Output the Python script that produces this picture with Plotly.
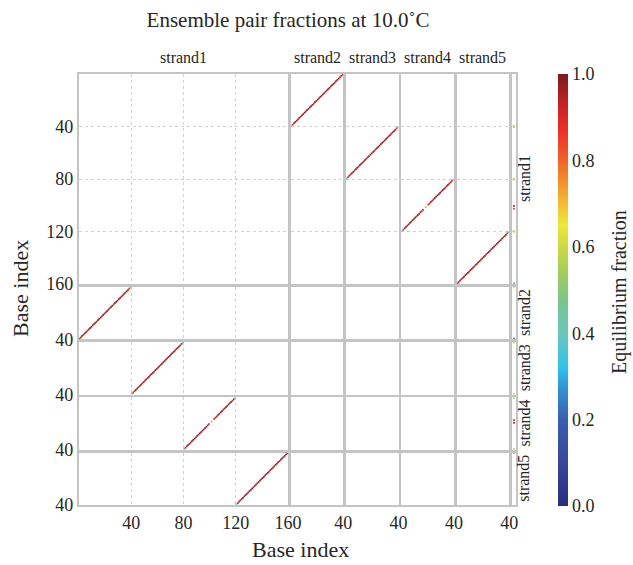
import plotly.graph_objects as go

# ---------------- data ----------------
title_text = "Ensemble pair fractions at 10.0˚C"
strand_names = ["strand1", "strand2", "strand3", "strand4", "strand5"]
strand_lengths = [160, 40, 40, 40, 40]
strand1_ticks = [40, 80, 120, 160]
short_ticks = [40]
colorbar_ticks = [0.0, 0.2, 0.4, 0.6, 0.8, 1.0]
colorbar_ticktext = ["0.0", "0.2", "0.4", "0.6", "0.8", "1.0"]

# strand1 segment start (1-based) paired with strand2..strand5
helix_strand1_start = [1, 41, 81, 121]
# pair fraction for strand1 bases start..start+39 (partner base runs 40 -> 1)
pair_s1_s2 = [0.93, 0.95, 0.96, 0.96, 0.97, 0.97, 0.97, 0.97, 0.97, 0.97,
              0.97, 0.97, 0.97, 0.97, 0.97, 0.97, 0.97, 0.97, 0.97, 0.97,
              0.97, 0.97, 0.97, 0.97, 0.97, 0.97, 0.97, 0.97, 0.97, 0.97,
              0.97, 0.97, 0.97, 0.97, 0.97, 0.96, 0.96, 0.95, 0.90, 0.40]
pair_s1_s3 = [0.42, 0.90, 0.95, 0.96, 0.96, 0.97, 0.97, 0.97, 0.97, 0.97,
              0.97, 0.97, 0.97, 0.97, 0.97, 0.97, 0.97, 0.97, 0.97, 0.97,
              0.97, 0.97, 0.97, 0.97, 0.97, 0.97, 0.97, 0.97, 0.97, 0.97,
              0.97, 0.97, 0.97, 0.97, 0.97, 0.96, 0.96, 0.95, 0.90, 0.38]
pair_s1_s4 = [0.45, 0.90, 0.95, 0.96, 0.96, 0.97, 0.97, 0.97, 0.97, 0.97,
              0.97, 0.97, 0.97, 0.97, 0.97, 0.96, 0.96, 0.95, 0.94, 0.90,
              None, 0.72, None, 0.90, 0.94, 0.95, 0.96, 0.96, 0.97, 0.97,
              0.97, 0.97, 0.97, 0.97, 0.97, 0.96, 0.96, 0.95, 0.90, 0.45]
pair_s1_s5 = [0.38, 0.90, 0.95, 0.96, 0.96, 0.97, 0.97, 0.97, 0.97, 0.97,
              0.97, 0.97, 0.97, 0.97, 0.97, 0.97, 0.97, 0.97, 0.97, 0.97,
              0.97, 0.97, 0.97, 0.97, 0.97, 0.97, 0.97, 0.97, 0.97, 0.97,
              0.97, 0.97, 0.97, 0.97, 0.97, 0.96, 0.96, 0.95, 0.94, 0.93]
helix_values = [pair_s1_s2, pair_s1_s3, pair_s1_s4, pair_s1_s5]

# unpaired fractions (only visible ones)
unpaired_bases = {
    "strand1": [40, 41, 80, 81, 101, 103, 120, 121, 160],
    "strand2": [1, 40],
    "strand3": [1, 40],
    "strand4": [1, 18, 20, 40],
    "strand5": [1],
}
unpaired_values = {
    "strand1": [0.60, 0.55, 0.62, 0.58, 0.95, 0.90, 0.58, 0.62, 0.30],
    "strand2": [0.62, 0.20],
    "strand3": [0.58, 0.55],
    "strand4": [0.50, 0.90, 0.95, 0.55],
    "strand5": [0.35],
}

colorscale = [
    [0.00, "#2a2d7c"], [0.10, "#36479a"], [0.20, "#3a5fae"], [0.27, "#3390d4"],
    [0.32, "#2fc3ee"], [0.40, "#6cc6bb"], [0.47, "#78c68f"], [0.54, "#a2cd5c"],
    [0.60, "#cbd944"], [0.65, "#ede83b"], [0.71, "#f5b331"], [0.76, "#f2872c"],
    [0.81, "#ef5a2a"], [0.87, "#ec2e28"], [0.93, "#c42326"], [1.00, "#7b1a1c"],
]

# ---------------- layout geometry (pixels) ----------------
W, H = 633, 565
L, R, T, B = 79, 117, 74, 59
PW, PH = W - L - R, H - T - B
col_px = [(79, 288), (290.8, 343.3), (346.1, 398.6), (401.4, 453.9), (456.7, 509.2), (512, 516)]
row_px = [(74, 284), (286.75, 339.25), (342, 394.5), (397.25, 449.75), (452.5, 505)]

FONT = "Liberation Serif"
TXT = "#262626"

def xdom(a, b):
    return [(a - L) / PW, (b - L) / PW]

def ydom(a, b):
    return [1 - (b - T) / PH, 1 - (a - T) / PH]

fig = go.Figure()
layout = {}
ncols = 6

def axis_id(r, c):
    return r * ncols + c + 1

def suffix(r, c):
    n = axis_id(r, c)
    return "" if n == 1 else str(n)

for r in range(5):
    for c in range(ncols):
        xs = suffix(r, c)
        if c < 5:
            xr = [0, strand_lengths[c]]
            xt = strand1_ticks if c == 0 else short_ticks
            xgrid = True
        else:
            xr = [0, 1]
            xt = []
            xgrid = False
        yr = [strand_lengths[r], 0]
        yt = strand1_ticks if r == 0 else short_ticks
        common = dict(showline=True, mirror=True, linecolor="#c4c4c4", linewidth=2.4,
                      gridcolor="#d0d0d0", griddash="dot", gridwidth=1,
                      zeroline=False, ticks="", fixedrange=True,
                      tickfont=dict(family=FONT, size=18, color=TXT))
        layout["xaxis" + xs] = dict(common, domain=xdom(*col_px[c]), anchor="y" + xs,
                                    range=xr, tickvals=xt, showgrid=xgrid,
                                    showticklabels=(r == 4 and c < 5))
        layout["yaxis" + xs] = dict(common, domain=ydom(*row_px[r]), anchor="x" + xs,
                                    range=yr, tickvals=yt, showgrid=True,
                                    showticklabels=(c == 0))
        # placeholder trace so every panel is drawn
        fig.add_trace(go.Scatter(x=[None], y=[None], mode="markers", xaxis="x" + xs,
                                 yaxis="y" + xs, showlegend=False, hoverinfo="skip"))

def add_points(r, c, xs_, ys_, vals):
    s = suffix(r, c)
    fig.add_trace(go.Scatter(
        x=xs_, y=ys_, mode="markers", xaxis="x" + s, yaxis="y" + s,
        marker=dict(color=vals, coloraxis="coloraxis", symbol="square", size=1.7,
                    line=dict(width=0)),
        showlegend=False, hoverinfo="skip"))

for k, (start, vals) in enumerate(zip(helix_strand1_start, helix_values)):
    b1, pb, vv = [], [], []
    for j, v in enumerate(vals):
        if v is None:
            continue
        b1.append(start + j - 0.5)
        pb.append(40 - j - 0.5)
        vv.append(v)
    add_points(0, k + 1, pb, b1, vv)
    add_points(k + 1, 0, b1, pb, vv)

for r, name in enumerate(strand_names):
    bases = unpaired_bases[name]
    add_points(r, 5, [0.5] * len(bases), [b - 0.5 for b in bases], unpaired_values[name])

annotations = []
for c, name in enumerate(strand_names):
    a, b = col_px[c]
    annotations.append(dict(text=name, xref="paper", yref="paper",
                            x=((a + b) / 2 - L) / PW, y=1 + (T - 57) / PH,
                            showarrow=False, xanchor="center", yanchor="middle",
                            font=dict(family=FONT, size=16, color=TXT)))
for r, name in enumerate(strand_names):
    a, b = row_px[r]
    annotations.append(dict(text=name, xref="paper", yref="paper",
                            x=(524 - L) / PW, y=1 - ((a + b) / 2 - T) / PH,
                            showarrow=False, textangle=-90, xanchor="center", yanchor="middle",
                            font=dict(family=FONT, size=16, color=TXT)))
annotations.append(dict(text="Base index", xref="paper", yref="paper",
                        x=(300 - L) / PW, y=1 - (549 - T) / PH, showarrow=False,
                        xanchor="center", yanchor="middle",
                        font=dict(family=FONT, size=22, color=TXT)))
annotations.append(dict(text="Base index", xref="paper", yref="paper",
                        x=(20 - L) / PW, y=1 - (288 - T) / PH, showarrow=False,
                        textangle=-90, xanchor="center", yanchor="middle",
                        font=dict(family=FONT, size=22, color=TXT)))
annotations.append(dict(text="Equilibrium fraction", xref="paper", yref="paper",
                        x=(619 - L) / PW, y=1 - (292 - T) / PH, showarrow=False,
                        textangle=-90, xanchor="center", yanchor="middle",
                        font=dict(family=FONT, size=20, color=TXT)))

fig.update_layout(
    width=W, height=H,
    margin=dict(l=L, r=R, t=T, b=B),
    paper_bgcolor="white", plot_bgcolor="white",
    title=dict(text=title_text, x=288 / W, xanchor="center", y=1 - 20 / H, yanchor="middle",
               xref="container", yref="container",
               font=dict(family=FONT, size=21, color=TXT)),
    coloraxis=dict(colorscale=colorscale, cmin=0, cmax=1,
                   colorbar=dict(thickness=10, len=1, lenmode="fraction", y=0.5, yanchor="middle",
                                 x=(558 - L) / PW, xanchor="left", xpad=0, ypad=0,
                                 outlinewidth=0, ticks="",
                                 tickvals=colorbar_ticks, ticktext=colorbar_ticktext,
                                 tickfont=dict(family=FONT, size=18, color=TXT))),
    annotations=annotations,
    **layout,
)

fig.write_html("out.html")
